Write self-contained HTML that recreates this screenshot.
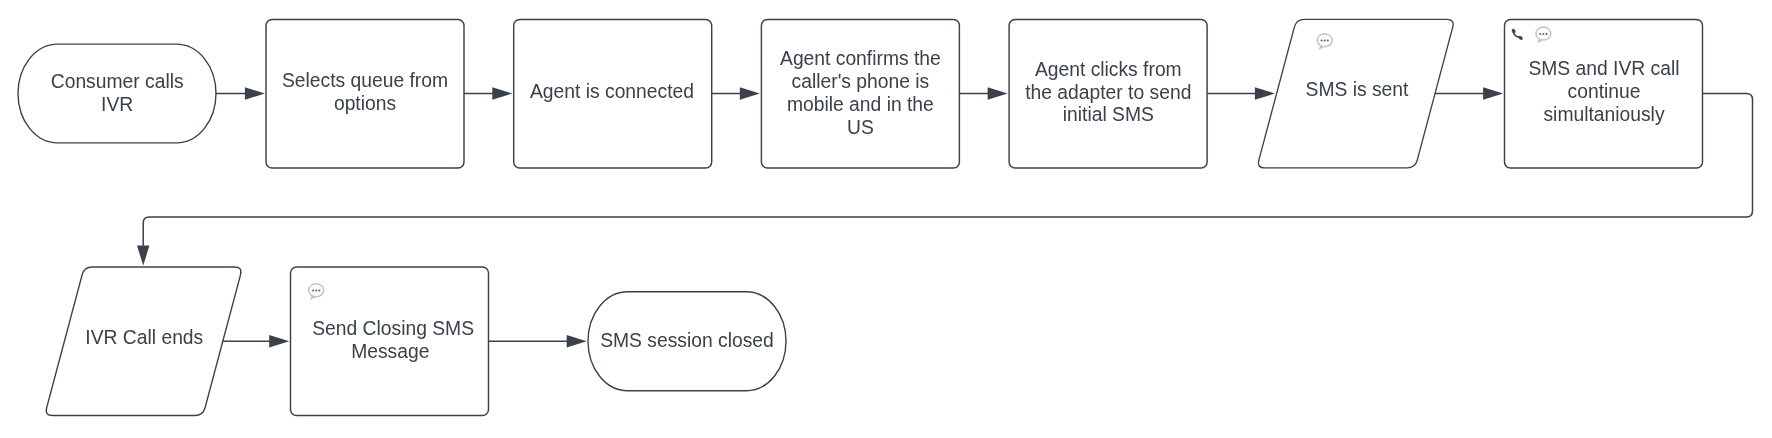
<!DOCTYPE html>
<html><head><meta charset="utf-8"><style>
html,body{margin:0;padding:0;background:#fff;}
svg{display:block;will-change:transform;}
text{font-family:"Liberation Sans",sans-serif;font-size:19.3px;fill:#3a414a;}
</style></head><body>
<svg width="1772" height="438" viewBox="0 0 1772 438">
<rect x="18" y="44.1" width="198" height="98.8" rx="39.6" ry="49.4" fill="#fff" stroke="#3a414a" stroke-width="1.4"/>
<rect x="266" y="19.4" width="198" height="148.5" rx="6" ry="6" fill="#fff" stroke="#3a414a" stroke-width="1.45"/>
<rect x="513.7" y="19.4" width="198" height="148.5" rx="6" ry="6" fill="#fff" stroke="#3a414a" stroke-width="1.45"/>
<rect x="761.4" y="19.4" width="198" height="148.5" rx="6" ry="6" fill="#fff" stroke="#3a414a" stroke-width="1.45"/>
<rect x="1009.1" y="19.4" width="198" height="148.5" rx="6" ry="6" fill="#fff" stroke="#3a414a" stroke-width="1.45"/>
<path d="M1304.40,19.40 L1446.80,19.40 Q1454.80,19.40 1452.74,27.13 L1417.26,160.17 Q1415.20,167.90 1407.20,167.90 L1264.80,167.90 Q1256.80,167.90 1258.86,160.17 L1294.34,27.13 Q1296.40,19.40 1304.40,19.40 Z" fill="#fff" stroke="#3a414a" stroke-width="1.35"/>
<rect x="1504.5" y="19.4" width="198" height="148.5" rx="6" ry="6" fill="#fff" stroke="#3a414a" stroke-width="1.45"/>
<path d="M92.20,267.00 L234.60,267.00 Q242.60,267.00 240.54,274.73 L205.06,407.77 Q203.00,415.50 195.00,415.50 L52.60,415.50 Q44.60,415.50 46.66,407.77 L82.14,274.73 Q84.20,267.00 92.20,267.00 Z" fill="#fff" stroke="#3a414a" stroke-width="1.35"/>
<rect x="290.5" y="267.0" width="198" height="148.5" rx="6" ry="6" fill="#fff" stroke="#3a414a" stroke-width="1.45"/>
<rect x="588" y="291.75" width="198" height="99" rx="39.6" ry="49.5" fill="#fff" stroke="#3a414a" stroke-width="1.4"/>
<path d="M216,93.5 H250" fill="none" stroke="#3a414a" stroke-width="1.5"/>
<path d="M264.9,93.5 L244.89999999999998,87.3 L244.89999999999998,99.7 Z" fill="#3a414a"/>
<path d="M464,93.5 H498" fill="none" stroke="#3a414a" stroke-width="1.5"/>
<path d="M512.3,93.5 L492.29999999999995,87.3 L492.29999999999995,99.7 Z" fill="#3a414a"/>
<path d="M711.7,93.5 H746" fill="none" stroke="#3a414a" stroke-width="1.5"/>
<path d="M759.8,93.5 L739.8,87.3 L739.8,99.7 Z" fill="#3a414a"/>
<path d="M959.4,93.5 H994" fill="none" stroke="#3a414a" stroke-width="1.5"/>
<path d="M1007.6,93.5 L987.6,87.3 L987.6,99.7 Z" fill="#3a414a"/>
<path d="M1207.1,93.5 H1260" fill="none" stroke="#3a414a" stroke-width="1.5"/>
<path d="M1274.9,93.5 L1254.9,87.3 L1254.9,99.7 Z" fill="#3a414a"/>
<path d="M1435,93.5 H1490" fill="none" stroke="#3a414a" stroke-width="1.5"/>
<path d="M1503.1,93.5 L1483.1,87.3 L1483.1,99.7 Z" fill="#3a414a"/>
<path d="M1702.5,93.5 H1746.5 Q1752.5,93.5 1752.5,99.5 V211 Q1752.5,217 1746.5,217 H149.2 Q143.2,217 143.2,223 V250" fill="none" stroke="#3a414a" stroke-width="1.5"/>
<path d="M143.2,265.6 L137.0,245.60000000000002 L149.39999999999998,245.60000000000002 Z" fill="#3a414a"/>
<path d="M222.6,341.3 H275" fill="none" stroke="#3a414a" stroke-width="1.5"/>
<path d="M289.2,341.3 L269.2,335.1 L269.2,347.5 Z" fill="#3a414a"/>
<path d="M488.5,341.3 H572" fill="none" stroke="#3a414a" stroke-width="1.5"/>
<path d="M586.7,341.3 L566.7,335.1 L566.7,347.5 Z" fill="#3a414a"/>
<text x="117.2" y="88.20" text-anchor="middle">Consumer calls</text>
<text x="117.2" y="110.80" text-anchor="middle">IVR</text>
<text x="365" y="87.00" text-anchor="middle">Selects queue from</text>
<text x="365" y="109.90" text-anchor="middle">options</text>
<text x="612" y="98.00" text-anchor="middle">Agent is connected</text>
<text x="860.4" y="65.10" text-anchor="middle">Agent confirms the</text>
<text x="860.4" y="87.90" text-anchor="middle">caller&#39;s phone is</text>
<text x="860.4" y="110.70" text-anchor="middle">mobile and in the</text>
<text x="860.4" y="133.60" text-anchor="middle">US</text>
<text x="1108.3" y="75.80" text-anchor="middle">Agent clicks from</text>
<text x="1108.3" y="98.50" text-anchor="middle">the adapter to send</text>
<text x="1108.3" y="121.40" text-anchor="middle">initial SMS</text>
<text x="1357" y="96.00" text-anchor="middle">SMS is sent</text>
<text x="1604" y="74.90" text-anchor="middle">SMS and IVR call</text>
<text x="1604" y="97.70" text-anchor="middle">continue</text>
<text x="1604" y="120.50" text-anchor="middle">simultaniously</text>
<text x="144.3" y="344.20" text-anchor="middle">IVR Call ends</text>
<text x="393.1" y="335.00" text-anchor="middle">Send Closing SMS</text>
<text x="390.3" y="357.90" text-anchor="middle">Message</text>
<text x="687" y="346.70" text-anchor="middle">SMS session closed</text>
<g transform="translate(1324.7,40.0) scale(1.0)">
<path d="M-4.4,5.8 L-6.2,10.0 L-0.6,7.0 Z" fill="#bcbcbc"/>
<ellipse cx="0" cy="0.3" rx="7.5" ry="6.5" fill="#fdfdfd" stroke="#c6c6c6" stroke-width="1.5"/>
<circle cx="-3.1" cy="0.6" r="1.0" fill="#606060"/><circle cx="0" cy="0.6" r="1.0" fill="#606060"/><circle cx="3.1" cy="0.6" r="1.0" fill="#606060"/>
</g>
<g transform="translate(1543.4,33.3) scale(1.0)">
<path d="M-4.4,5.8 L-6.2,10.0 L-0.6,7.0 Z" fill="#bcbcbc"/>
<ellipse cx="0" cy="0.3" rx="7.5" ry="6.5" fill="#fdfdfd" stroke="#c6c6c6" stroke-width="1.5"/>
<circle cx="-3.1" cy="0.6" r="1.0" fill="#606060"/><circle cx="0" cy="0.6" r="1.0" fill="#606060"/><circle cx="3.1" cy="0.6" r="1.0" fill="#606060"/>
</g>
<g transform="translate(316.2,290.0) scale(1.0)">
<path d="M-4.4,5.8 L-6.2,10.0 L-0.6,7.0 Z" fill="#bcbcbc"/>
<ellipse cx="0" cy="0.3" rx="7.5" ry="6.5" fill="#fdfdfd" stroke="#c6c6c6" stroke-width="1.5"/>
<circle cx="-3.1" cy="0.6" r="1.0" fill="#606060"/><circle cx="0" cy="0.6" r="1.0" fill="#606060"/><circle cx="3.1" cy="0.6" r="1.0" fill="#606060"/>
</g>
<g fill="#4a4a4a">
<ellipse cx="1513.7" cy="31.0" rx="1.7" ry="2.5" transform="rotate(-35 1513.7 31.0)"/>
<ellipse cx="1520.6" cy="37.8" rx="2.5" ry="1.7" transform="rotate(35 1520.6 37.8)"/>
<path d="M1513.2,32.2 Q1514.6,36.2 1519.6,37.4" fill="none" stroke="#4a4a4a" stroke-width="1.7" stroke-linecap="round"/>
</g>
</svg>
</body></html>
